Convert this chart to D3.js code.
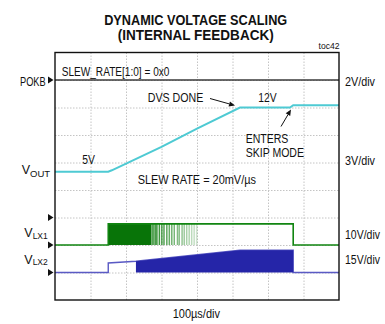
<!DOCTYPE html>
<html>
<head>
<meta charset="utf-8">
<script src="https://cdn.jsdelivr.net/npm/d3@7/dist/d3.min.js"></script>
<style>
  html, body { margin: 0; padding: 0; background: #fff; }
  svg { display: block; font-family: "Liberation Sans", Arial, sans-serif; }
</style>
</head>
<body>
<svg id="chart" width="385" height="324"></svg>
<script>
// ---- Waveform data (time in microseconds, values in volts) ----
const voutTime   = [0, 150, 160, 300, 400, 521, 662, 671, 800];
const voutVolts  = [5, 5, 5.15, 7.7, 9.7, 12, 12, 12.25, 12.25];

const pokbTime   = [0, 800];
const pokbVolts  = [0, 0];

// LX1 switching: envelope, dense burst, then sparse pulses
const lx1Time    = [0, 150, 150, 671, 671, 800];
const lx1Volts   = [0, 0, 7.7, 7.7, 0, 0];
const lx1Dense   = [150, 272];
const lx1Pulses  = [276, 282, 287, 294, 301, 307, 315, 322, 329, 336, 345, 350, 358, 364, 371, 378, 385, 392, 399];

// LX2 switching envelope and filled region
const lx2Time    = [0, 150, 150, 228, 521, 671, 671, 800];
const lx2Volts   = [0, 0, 5.2, 6.1, 12.1, 12.1, 0, 0];
const lx2FillTime  = [228, 521, 671];
const lx2FillVolts = [6.1, 12.1, 12.1];

// Channel setup: ground division (from top) and scale
const channels = [
  { name: "POKB", groundDiv: 1, perDiv: 2,  scaleText: "2V/div"  },
  { name: "VOUT", groundDiv: 6, perDiv: 3,  scaleText: "3V/div"  },
  { name: "VLX1", groundDiv: 7, perDiv: 10, scaleText: "10V/div" },
  { name: "VLX2", groundDiv: 8, perDiv: 15, scaleText: "15V/div" }
];

const timeDomain = [0, 800];
const xDivisions = 8;
const yDivisions = 9;

// ---- Layout ----
const plot = { left: 55, right: 339, top: 52.5, bottom: 300 };
const svg = d3.select("#chart");

const x = d3.scaleLinear().domain(timeDomain).range([plot.left, plot.right]);
const gridY = d3.scaleLinear().domain([0, yDivisions]).range([plot.top, plot.bottom]);
const chanScale = c => d3.scaleLinear().domain([0, c.perDiv])
  .range([gridY(c.groundDiv), gridY(c.groundDiv - 1)]);
const ch = {};
channels.forEach(c => ch[c.name] = chanScale(c));

// ---- Grid ----
const xStep = (timeDomain[1] - timeDomain[0]) / xDivisions;
const xGrid = d3.axisBottom(x)
  .tickValues(d3.range(1, xDivisions).map(i => timeDomain[0] + i * xStep))
  .tickSize(-(plot.bottom - plot.top)).tickFormat("");
svg.append("g").attr("transform", `translate(0,${plot.bottom})`).call(xGrid)
  .call(g => g.select(".domain").remove())
  .selectAll("line").attr("stroke", "#c4c4c4").attr("stroke-dasharray", "1.5,1.5");

const yGrid = d3.axisLeft(gridY)
  .tickValues(d3.range(1, yDivisions))
  .tickSize(-(plot.right - plot.left)).tickFormat("");
svg.append("g").attr("transform", `translate(${plot.left},0)`).call(yGrid)
  .call(g => g.select(".domain").remove())
  .selectAll("line").attr("stroke", "#c4c4c4").attr("stroke-dasharray", "1.5,1.5");

// ---- Traces ----
const pts = (t, v) => t.map((d, i) => [d, v[i]]);
const lineFor = s => d3.line().x(d => x(d[0])).y(d => s(d[1]));

// POKB stays low
svg.append("path").datum(pts(pokbTime, pokbVolts))
  .attr("d", lineFor(ch.POKB)).attr("fill", "none")
  .attr("stroke", "#3a3a3a").attr("stroke-width", 1.6);

// LX2: thin envelope outline, then solid filled region
svg.append("path").datum(pts(lx2Time, lx2Volts))
  .attr("d", lineFor(ch.VLX2)).attr("fill", "none")
  .attr("stroke", "#5a5ac4").attr("stroke-width", 1.4);
svg.append("path").datum(pts(lx2FillTime, lx2FillVolts))
  .attr("d", d3.area().x(d => x(d[0])).y0(ch.VLX2(0)).y1(d => ch.VLX2(d[1])))
  .attr("fill", "#2525a8");

// LX1: envelope, dense switching block, fading sparse pulses
const lx1Top = d3.max(lx1Volts);
svg.append("rect")
  .attr("x", x(lx1Dense[0])).attr("width", x(lx1Dense[1]) - x(lx1Dense[0]))
  .attr("y", ch.VLX1(lx1Top)).attr("height", ch.VLX1(0) - ch.VLX1(lx1Top))
  .attr("fill", "#087408");
svg.append("g").selectAll("line").data(lx1Pulses).join("line")
  .attr("x1", d => x(d)).attr("x2", d => x(d))
  .attr("y1", ch.VLX1(0)).attr("y2", ch.VLX1(lx1Top))
  .attr("stroke", "#0a7a0a").attr("stroke-width", 1.5)
  .attr("stroke-opacity", (d, i) => 0.9 - 0.7 * i / (lx1Pulses.length - 1));
svg.append("path").datum(pts(lx1Time, lx1Volts))
  .attr("d", lineFor(ch.VLX1)).attr("fill", "none")
  .attr("stroke", "#118511").attr("stroke-width", 1.6);

// VOUT
svg.append("path").datum(pts(voutTime, voutVolts))
  .attr("d", lineFor(ch.VOUT)).attr("fill", "none")
  .attr("stroke", "#4ecad3").attr("stroke-width", 2);

// ---- Frame ----
svg.append("rect")
  .attr("x", plot.left).attr("y", plot.top)
  .attr("width", plot.right - plot.left).attr("height", plot.bottom - plot.top)
  .attr("fill", "none").attr("stroke", "#111").attr("stroke-width", 1.4);

// Ground markers on the left edge
svg.append("g").selectAll("path")
  .data([gridY(1), gridY(6), gridY(7), gridY(8)]).join("path")
  .attr("d", d => `M48,${d - 3.5}L53.5,${d}L48,${d + 3.5}Z`)
  .attr("fill", "#111");

// ---- Text ----
function label(txt, px, py, size, len, opts = {}) {
  const t = svg.append("text")
    .attr("x", px).attr("y", py)
    .attr("font-size", size)
    .attr("font-weight", opts.bold ? "bold" : "normal")
    .attr("text-anchor", opts.anchor || "start")
    .attr("fill", "#111")
    .text(txt);
  if (len) t.attr("textLength", len).attr("lengthAdjust", "spacingAndGlyphs");
  return t;
}

label("DYNAMIC VOLTAGE SCALING", 195.7, 24.5, 14, 183, { bold: true, anchor: "middle" });
label("(INTERNAL FEEDBACK)", 195.7, 40.2, 14, 156, { bold: true, anchor: "middle" });
label("toc42", 339.5, 49, 8.5, 21, { anchor: "end" });
label("SLEW_RATE[1:0] = 0x0", 61.7, 76, 12, 107.7);
label("POKB", 20, 85.5, 12, 25.7);

channels.forEach(c => {
  const wid = c.scaleText.length === 6 ? 30 : 35;
  const yy = { POKB: 85.5, VOUT: 165, VLX1: 238.5, VLX2: 264 }[c.name];
  label(c.scaleText, 345, yy, 12, wid);
});

label("DVS DONE", 147.7, 102.3, 12, 55.6);
label("12V", 258.3, 102, 12, 18.4);
label("ENTERS", 245.7, 143.3, 12, 42.7);
label("SKIP MODE", 245.7, 157.3, 12, 58.3);
label("5V", 82.3, 164, 12, 12.7);
label("SLEW RATE = 20mV/\u00b5s", 137.7, 184, 12, 118.3);
label("100\u00b5s/div", 172.7, 318.3, 12, 47.3);

// Subscripted channel names
function subLabel(main, sub, px, py, subDy, subSize) {
  const t = svg.append("text").attr("x", px).attr("y", py).attr("fill", "#111");
  t.append("tspan").attr("font-size", 12.5).text(main);
  t.append("tspan").attr("font-size", subSize).attr("dy", subDy).text(sub);
}
subLabel("V", "OUT", 21.7, 174, 2.5, 9.5);
subLabel("V", "LX1", 24.3, 237.3, 2, 8.5);
subLabel("V", "LX2", 24.3, 263.5, 1.5, 8.5);

// Annotation arrows
const arrows = [
  { from: [210, 98.5], to: [235, 105.5] },
  { from: [281, 126.5], to: [291, 109.5] }
];
arrows.forEach(a => {
  const [x1, y1] = a.from, [x2, y2] = a.to;
  const ang = Math.atan2(y2 - y1, x2 - x1);
  const hl = 6, hw = 2.6;
  const bx = x2 - hl * Math.cos(ang), by = y2 - hl * Math.sin(ang);
  svg.append("line").attr("x1", x1).attr("y1", y1).attr("x2", bx).attr("y2", by)
    .attr("stroke", "#111").attr("stroke-width", 1);
  const px = -Math.sin(ang) * hw, py = Math.cos(ang) * hw;
  svg.append("path")
    .attr("d", `M${x2},${y2}L${bx + px},${by + py}L${bx - px},${by - py}Z`)
    .attr("fill", "#111");
});
</script>
</body>
</html>
